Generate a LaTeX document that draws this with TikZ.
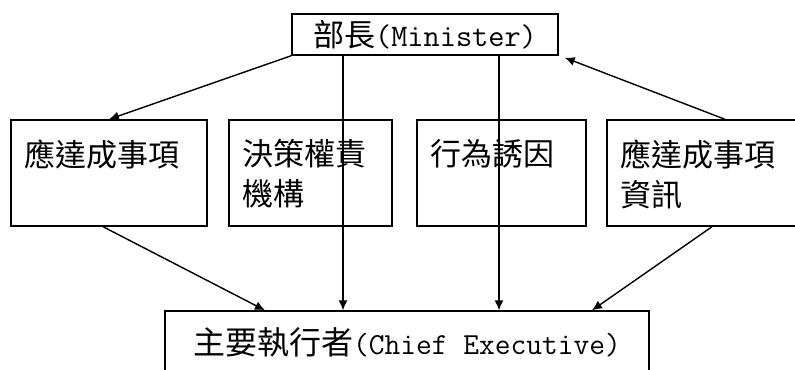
\documentclass[tikz,border=0pt]{standalone}
\usepackage{fontspec}
\newfontfamily\cjk{Noto Sans CJK TC}
\usetikzlibrary{arrows.meta}

\begin{document}
\begin{tikzpicture}[x=0.5pt,y=-0.5pt]
		\tikzset{box/.style = {shape=rectangle,draw,line width=0.7pt,inner sep=0pt}}
		\tikzset{txt/.style = {anchor=north west,align=left,inner xsep=7pt,inner ysep=10pt,font=\fontsize{15.5}{20}\cjk}}
		\tikzset{edge/.style = {line width=0.7pt,-{Latex[length=5pt,width=4.5pt]}}}
		\useasboundingbox (0,0) rectangle (795,369);
		\clip (0,0) rectangle (795,369);
		
		\node[box,minimum width=133pt,minimum height=20.5pt] (minister) at (425,34.5) {{\fontsize{15.5}{20}\cjk 部長}{\fontsize{15.7}{20}\ttfamily(Minister)}};
		
		\node[box,minimum width=98pt,minimum height=53pt,label={[txt]north west:應達成事項}] (goal) at (109,173) {};
		\node[box,minimum width=81.5pt,minimum height=53pt,label={[txt]north west:決策權責\\機構}] (authority) at (310.5,173) {};
		\node[box,minimum width=84.5pt,minimum height=53pt,label={[txt]north west:行為誘因}] (incentive) at (501.5,173) {};
		\node[box,minimum width=96.5pt,minimum height=53pt,label={[txt]north west:應達成事項\\資訊}] (info) at (703.5,173) {};
		
		\node[box,minimum width=242pt,minimum height=31pt] (chief) at (407,342) {{\fontsize{16}{20}\cjk 主要執行者}{\fontsize{15.3}{20}\ttfamily(Chief Executive)}};
		
		\draw[edge] (minister.south west) -- (goal.north);
		\draw[edge] ([xshift=-41pt]minister.south) -- ([xshift=-32pt]chief.north);
		\draw[edge] ([xshift=37pt]minister.south) -- ([xshift=46pt]chief.north);
		\draw[edge] ([xshift=10.75pt]info.north) -- ([xshift=3pt,yshift=-1pt]minister.south east);
		\draw[edge] ([xshift=-3pt]goal.south) -- ([xshift=-71pt]chief.north);
		\draw[edge] ([xshift=4.25pt]info.south) -- ([xshift=92.5pt]chief.north);
\end{tikzpicture}
\end{document}
